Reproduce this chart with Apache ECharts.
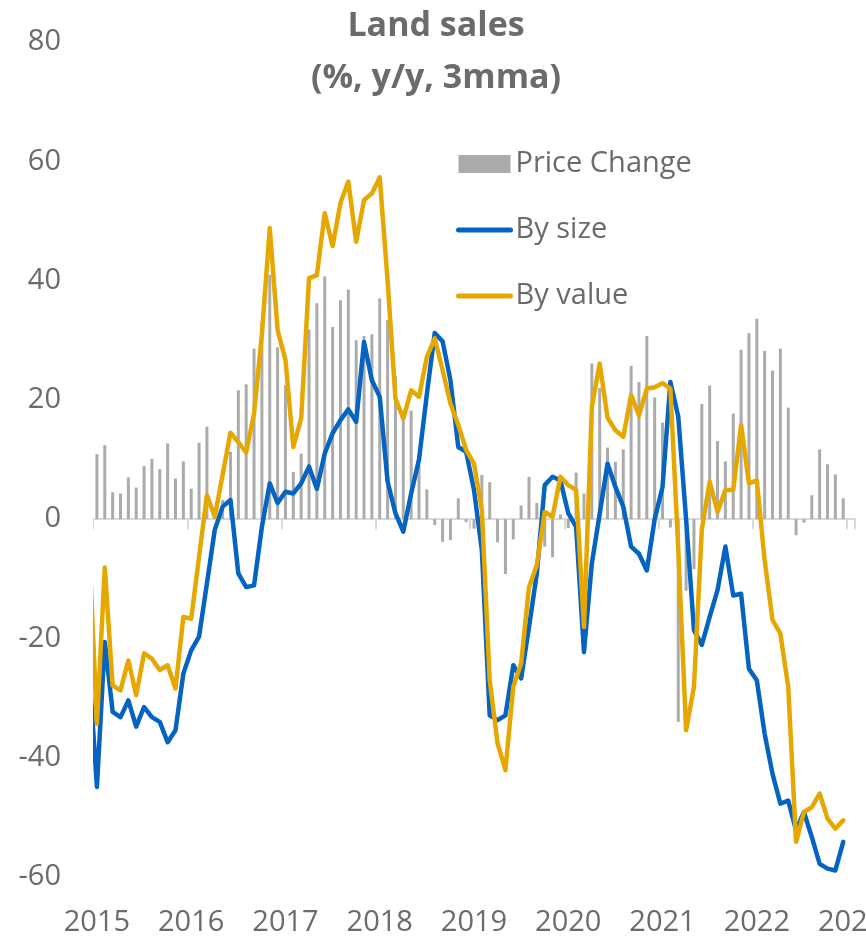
<!DOCTYPE html>
<html>
<head>
<meta charset="utf-8">
<title>Land sales</title>
<script src="https://cdn.jsdelivr.net/npm/echarts@6/dist/echarts.min.js"></script>
<style>
  html, body { margin: 0; padding: 0; background: #fff; }
  #box { width: 866px; height: 938px; }
</style>
</head>
<body>
<div id="box"></div>
<script>
// years on the axis (one label every 12 months, the last one is cut by the edge)
var years = [2015, 2016, 2017, 2018, 2019, 2020, 2021, 2022, 2023];

// monthly, Jan 2015 .. Dec 2022
var priceChange = [
    10.9, 12.4, 4.5, 4.3, 7.0, 5.3, 8.9, 10.1, 8.4, 12.7, 6.8, 9.7,
    5.1, 12.8, 15.5, 0.8, 3.2, 11.3, 21.6, 22.6, 28.6, 33, 41, 28.8,
    22.5, 7.9, 11.0, 31.8, 36.2, 40.7, 32.2, 36.7, 38.5, 30.0, 30.7, 31.0,
    37.0, 33.4, 24, 18, 18.2, 9, 5.0, -1.0, -3.8, -3.5, 3.5, -0.5,
    -1.6, 7.4, 6.2, -3.9, -9.2, -3.4, 2.3, 7.1, 2.7, -4.6, -6.4, 0.8,
    -1.5, 7.8, 4.3, 26.1, 22, 12, 9.6, 11.7, 25.7, 23.0, 30.7, 20.4,
    16.2, -1.4, -34.0, -12, -8.4, 19.3, 22.4, 13.1, 9.7, 17.7, 28.4, 31.2,
    33.6, 28.2, 24.9, 28.6, 18.7, -2.7, -0.6, 4.0, 11.7, 9.2, 7.5, 3.5
];

// lines start one month earlier (Dec 2014), that point falls left of the plot
var bySize = [
    -25,
    -44.9, -20.6, -32.3, -33.2, -30.4, -34.8, -31.5, -33.2, -34.0, -37.4, -35.4, -25.9,
    -22.0, -19.7, -10.8, -1.8, 2.1, 3.2, -9.1, -11.4, -11.1, -1.3, 6.0, 2.7,
    4.6, 4.3, 6.0, 8.8, 5.1, 11.0, 14.4, 16.6, 18.4, 16.3, 29.7, 23.3,
    20.5, 6.3, 1.0, -2.1, 4.3, 10, 21, 31.2, 29.8, 23.3, 12.1, 11.3,
    4.9, -5.2, -32.9, -33.7, -32.9, -24.5, -26.7, -18.1, -9.1, 5.7, 7.1, 6.5,
    1.0, -1.3, -22.3, -7.4, 0.9, 9.3, 5.4, 2.1, -4.6, -5.8, -8.6, 0,
    5.4, 23.0, 17.2, 0, -18.6, -21.1, -16.4, -11.9, -4.6, -12.8, -12.5, -25.1,
    -27.0, -36.0, -42.7, -47.7, -47.2, -52.2, -49.1, -53.3, -57.8, -58.6, -58.9, -54.1
];

var byValue = [
    -4,
    -34.3, -8.1, -27.9, -28.7, -23.7, -29.5, -22.5, -23.4, -25.3, -24.5, -28.4, -16.4,
    -16.7, -6.3, 4.0, 0.4, 7.4, 14.5, 12.9, 11.2, 17.7, 31, 48.8, 31.7,
    26.7, 12.1, 16.9, 40.4, 40.9, 51.3, 45.8, 53.0, 56.6, 46.5, 53.5, 54.6,
    57.3, 40, 20.2, 16.9, 21.6, 20.5, 27.2, 30.3, 25.0, 19.4, 15.8, 11.6,
    9.3, 1.5, -27.0, -37.6, -42.1, -28.1, -24.2, -11.4, -7.7, 1.2, 0.4, 7.1,
    5.7, 4.9, -18.1, 18.8, 26.1, 17.0, 14.9, 13.8, 20.8, 17.4, 21.9, 22.1,
    22.8, 21.9, -5, -35.4, -28.1, -1.8, 6.3, 1.2, 4.9, 4.9, 15.8, 6.0,
    6.5, -6.9, -16.9, -19.2, -28.1, -54.1, -49.1, -48.3, -46.0, -50.2, -51.9, -50.5
];

// category months: Jan 2015 .. Jan 2023
var months = [];
years.forEach(function (y) {
    for (var m = 1; m <= 12; m++) {
        if (y === 2023 && m > 1) break;
        months.push(y + '-' + (m < 10 ? '0' + m : m));
    }
});

function toPairs(arr) {
    return arr.map(function (v, i) { return [i - 1, v]; });
}

var textColor = '#6b6b6b';
var fontName = 'Open Sans';
var sizeColor = '#0563c1';
var valueColor = '#e6a800';

var myChart = echarts.init(document.getElementById('box'));

var option = {
    animation: false,
    backgroundColor: '#fff',
    textStyle: { fontFamily: fontName },
    title: {
        text: 'Land sales\n(%, y/y, 3mma)',
        left: 431,
        top: -5,
        textAlign: 'center',
        textStyle: {
            fontFamily: fontName,
            fontSize: 34,
            fontWeight: 'bold',
            color: textColor,
            lineHeight: 52
        }
    },
    legend: {
        orient: 'vertical',
        left: 456,
        top: 149,
        padding: 0,
        itemWidth: 52,
        itemHeight: 18,
        itemGap: 36,
        textStyle: { fontFamily: fontName, fontSize: 29, color: textColor, lineHeight: 30 },
        data: [
            { name: 'Price Change', icon: 'rect' },
            { name: 'By size', itemStyle: { opacity: 0 }, lineStyle: { width: 5, color: sizeColor } },
            { name: 'By value', itemStyle: { opacity: 0 }, lineStyle: { width: 5, color: valueColor } }
        ]
    },
    grid: {
        left: 93,
        right: 11,
        top: 42,
        bottom: 61,
        outerBoundsMode: 'none',
        containLabel: false
    },
    xAxis: [{
        // year labels at the bottom
        type: 'category',
        data: months,
        position: 'bottom',
        axisLine: { show: false, onZero: false },
        axisTick: { show: false },
        axisLabel: {
            interval: 11,
            margin: 31,
            fontSize: 29,
            color: textColor,
            fontFamily: fontName,
            formatter: function (v) { return v.slice(0, 4); }
        },
        splitLine: { show: false }
    }, {
        // axis line and year ticks sitting on zero
        type: 'category',
        data: months,
        position: 'top',
        axisLine: { show: true, onZero: true, lineStyle: { color: '#d9d9d9', width: 2 } },
        axisTick: { show: true, inside: true, interval: 11, length: 10, lineStyle: { color: '#d9d9d9', width: 2 } },
        axisLabel: { show: false },
        splitLine: { show: false }
    }, {
        // month index scale for the lines
        type: 'value',
        min: -0.5,
        max: 96.5,
        show: false
    }],
    yAxis: {
        type: 'value',
        min: -60,
        max: 80,
        interval: 20,
        axisLine: { show: false },
        axisTick: { show: false },
        splitLine: { show: false },
        axisLabel: { margin: 32, fontSize: 29, color: textColor, fontFamily: fontName }
    },
    // plot area edge: hides the part of the Dec 2014 segment left of the axis
    graphic: [{
        type: 'rect',
        left: 63,
        top: 40,
        z: 100,
        shape: { width: 30, height: 850 },
        style: { fill: '#fff' }
    }],
    series: [{
        name: 'Price Change',
        type: 'bar',
        xAxisIndex: 0,
        data: priceChange,
        barWidth: 3,
        itemStyle: { color: '#ababab' }
    }, {
        name: 'By size',
        type: 'line',
        xAxisIndex: 2,
        data: toPairs(bySize),
        symbol: 'none',
        lineStyle: { color: sizeColor, width: 4.5, cap: 'round', join: 'round' },
        itemStyle: { color: sizeColor }
    }, {
        name: 'By value',
        type: 'line',
        xAxisIndex: 2,
        data: toPairs(byValue),
        symbol: 'none',
        lineStyle: { color: valueColor, width: 4.5, cap: 'round', join: 'round' },
        itemStyle: { color: valueColor }
    }]
};

myChart.setOption(option);
</script>
</body>
</html>
